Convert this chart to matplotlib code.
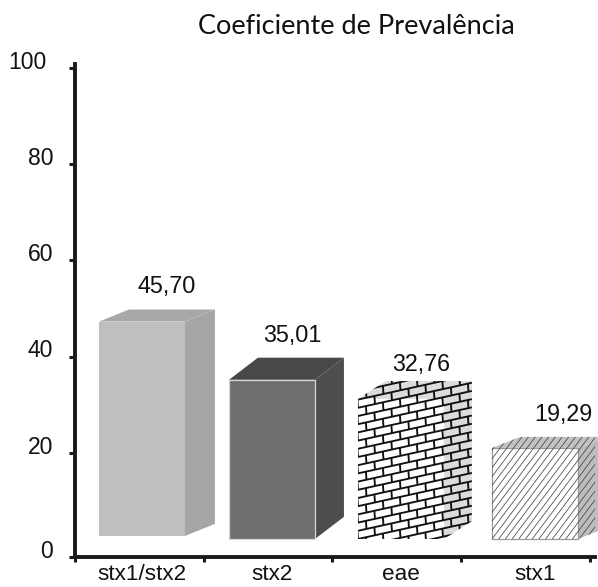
import matplotlib
matplotlib.use("Agg")
import matplotlib.pyplot as plt
from matplotlib.collections import LineCollection
from matplotlib.patches import Polygon
from matplotlib.transforms import ScaledTranslation

categories = ["stx1/stx2", "stx2", "eae", "stx1"]
value_labels = ["45,70", "35,01", "32,76", "19,29"]
bar_left = [0.186, 1.196, 2.198, 3.239]
bar_bottom = [2.77, 2.14, 2.14, 2.14]
bar_top = [47.3, 35.2, 31.25, 21.06]
depth_x = [0.233, 0.225, 0.217, 0.22]
depth_y = [2.5, 4.6, 3.7, 2.3]
y_ticks = [-1.6, 20, 40, 60, 80, 100]
y_tick_labels = ["0", "20", "40", "60", "80", "100"]
label_x = [0.52, 1.53, 2.53, 3.57]
value_x = [0.715, 1.685, 2.69, 3.79]
value_y = [54.55, 44.4, 38.3, 27.9]

front_colors = ["#bfbfbf", "#6e6e6e", "white", "white"]
side_colors = ["#a6a6a6", "#4d4d4d", "#dcdcdc", "#bdbdbd"]
top_colors = ["#a8a8a8", "#484848", "#dcdcdc", "#c2c2c2"]
front_edges = ["none", "#d8d8d8", "none", "#999999"]


def clip_lines(ax, segments, outline, color, width):
    lines = LineCollection(segments, colors=color, linewidths=width,
                           transform=None, zorder=4, capstyle="butt")
    ax.add_collection(lines, autolim=False)
    clip = Polygon(outline, transform=ax.transData)
    lines.set_clip_path(clip)
    lines.set_clip_on(True)


def brick_segments(box):
    # rows of bricks leaning upward, in screen pixels
    x0, y0, x1, y1 = box
    row, brick, lean = 8.2, 17.0, 0.22
    segments = []
    for r in range(-12, 40):
        base = y0 + r * row
        segments.append([(x0, base), (x1, base + lean * (x1 - x0))])
        for k in range(-1, 14):
            x = x0 + (k + 0.5 * (r % 2)) * brick
            b = base + lean * (x - x0)
            segments.append([(x, b), (x - 0.6, b + row)])
    return segments


def slant_segments(box):
    x0, y0, x1, y1 = box
    step, slope = 6.7, 1.33
    segments = []
    for k in range(-16, 40):
        x = x0 + k * step
        segments.append([(x, y0), (x + (y1 - y0) / slope, y1)])
    return segments


def main():
    fig = plt.figure(figsize=(5.98, 5.87), dpi=100)
    ax = fig.add_axes([75 / 598, 1 - 557 / 587, 520 / 598, 493 / 587])
    ax.set_xlim(0, 4.039)
    ax.set_ylim(-1.6, 100.8)

    for i in range(len(categories)):
        x0 = bar_left[i]
        x1 = x0 + 0.668
        dx, dy = depth_x[i], depth_y[i]
        lo, hi = bar_bottom[i], bar_top[i]
        side = [(x1, lo), (x1 + dx, lo + dy), (x1 + dx, hi + dy), (x1, hi)]
        top = [(x0, hi), (x0 + dx, hi + dy), (x1 + dx, hi + dy), (x1, hi)]
        front = [(x0, lo), (x1, lo), (x1, hi), (x0, hi)]
        ax.add_patch(Polygon(side, fc=side_colors[i], ec="none", clip_on=False, zorder=2))
        ax.add_patch(Polygon(top, fc=top_colors[i], ec="none", clip_on=False, zorder=2))
        ax.add_patch(Polygon(front, fc=front_colors[i], ec=front_edges[i], lw=0.9,
                             clip_on=False, zorder=3))
        ax.text(value_x[i], value_y[i], value_labels[i], ha="center", va="center",
                fontsize=16.8, family="Liberation Sans", color="#111111", clip_on=False)

        outline = [(x0, lo), (x1, lo), (x1 + dx, lo + dy), (x1 + dx, hi + dy),
                   (x0 + dx, hi + dy), (x0, hi)]
        px = ax.transData.transform(outline)
        box = (px[:, 0].min(), px[:, 1].min(), px[:, 0].max(), px[:, 1].max())
        if categories[i] == "eae":
            clip_lines(ax, brick_segments(box), outline, "#111111", 1.35)
        if categories[i] == "stx1":
            clip_lines(ax, slant_segments(box), outline, "#444444", 0.55)

    for name in ["top", "right"]:
        ax.spines[name].set_visible(False)
    for name in ["left", "bottom"]:
        ax.spines[name].set_linewidth(2.8)
        ax.spines[name].set_color("#1a1a1a")

    ax.set_yticks(y_ticks, y_tick_labels, fontsize=16.5, family="Liberation Sans")
    ax.set_xticks([0, 1, 2, 3, 4], [])
    ax.set_xticks(label_x, categories, minor=True, fontsize=16.2,
                  family="Liberation Sans")
    ax.tick_params(axis="y", length=4.6, width=2.2, pad=11, color="#1a1a1a",
                   labelcolor="#111111")
    ax.tick_params(axis="x", which="major", length=3.4, width=2.2, color="#1a1a1a")
    ax.tick_params(axis="x", which="minor", length=0, pad=5, labelcolor="#111111")
    shift = ScaledTranslation(0, 6 / 72, fig.dpi_scale_trans)
    for label in ax.get_yticklabels():
        extra = 5 / 72 if label.get_text() == "100" else 0
        label.set_transform(label.get_transform() + shift
                            + ScaledTranslation(-extra, 0, fig.dpi_scale_trans))

    fig.text(356 / 598, 1 - 27 / 587, "Coeficiente de Prevalência", ha="center",
             va="center", fontsize=19.5, family="Lato", color="#111111")
    fig.savefig("out.png", dpi=100)


if __name__ == "__main__":
    main()
